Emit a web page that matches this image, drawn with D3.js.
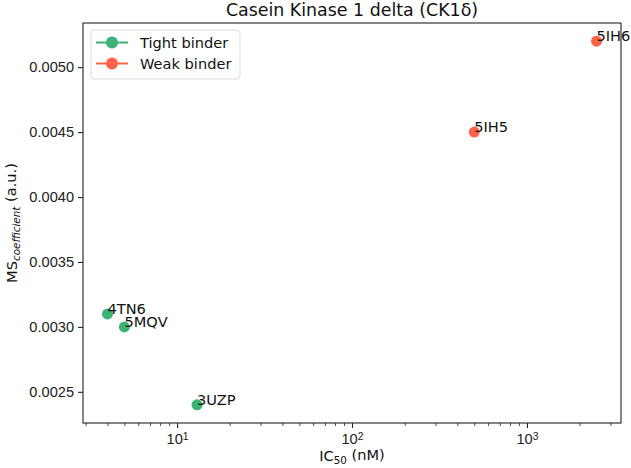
<!DOCTYPE html>
<html>
<head>
<meta charset="utf-8">
<script src="https://cdn.jsdelivr.net/npm/d3@7"></script>
<style>
  body { margin: 0; background: #fff; }
  svg { display: block; font-family: "DejaVu Sans", sans-serif; }
</style>
</head>
<body>
<div id="chart"></div>
<script>
var w = 631,
  h = 468;
var margin = {top: 23, right: 10, bottom: 45, left: 83};
var fs = 14.6;

// data
var names = ["4TN6", "5MQV", "3UZP", "5IH5", "5IH6"];
var ic50 = [4, 5, 13, 500, 2500];
var msCoef = [0.0031, 0.0030, 0.0024, 0.0045, 0.0052];
var groups = ["Tight binder", "Tight binder", "Tight binder", "Weak binder", "Weak binder"];
var legendNames = ["Tight binder", "Weak binder"];
var legendColors = ["#3cb371", "#ff6347"];
var yTicks = [0.0025, 0.0030, 0.0035, 0.0040, 0.0045, 0.0050];
var xTicks = [10, 100, 1000];

var color = d3.scaleOrdinal().domain(legendNames).range(legendColors);

var svg = d3.select("#chart").append("svg").attr("width", w).attr("height", h);
var iw = w - margin.left - margin.right,
  ih = h - margin.top - margin.bottom;

// matplotlib style 5% margins on log x
var lx0 = Math.log10(d3.min(ic50)), lx1 = Math.log10(d3.max(ic50));
var pad = (lx1 - lx0) * 0.05;
var x = d3.scaleLog().domain([Math.pow(10, lx0 - pad), Math.pow(10, lx1 + pad)]).range([0, iw]);
var ylo = d3.min(msCoef), yhi = d3.max(msCoef);
var ypad = (yhi - ylo) * 0.05;
var y = d3.scaleLinear().domain([ylo - ypad, yhi + ypad]).range([ih, 0]);

var g = svg.append("g").attr("transform", "translate(" + margin.left + "," + margin.top + ")");

// minor ticks
var minor = [];
[1, 10, 100, 1000].forEach(function (d) {
  for (var k = 2; k <= 9; k++) {
    var v = d * k;
    if (v >= x.domain()[0] && v <= x.domain()[1]) minor.push(v);
  }
});

var xAxis = g.append("g").attr("transform", "translate(0," + ih + ")")
  .call(d3.axisBottom(x).tickValues(xTicks).tickSize(5).tickPadding(4).tickFormat(function () { return ""; }));
xAxis.select(".domain").remove();
xAxis.selectAll(".tick").each(function (d) {
  var t = d3.select(this).select("text").attr("font-size", fs).attr("fill", "#222").attr("dy", "0.85em");
  t.append("tspan").text("10");
  t.append("tspan").attr("dy", "-0.45em").attr("font-size", 10.4).text(Math.round(Math.log10(d)));
});
xAxis.selectAll("line").attr("stroke", "#222").attr("stroke-width", 1.1);

var xMinor = g.append("g").attr("transform", "translate(0," + ih + ")")
  .call(d3.axisBottom(x).tickValues(minor).tickSize(3).tickFormat(""));
xMinor.select(".domain").remove();
xMinor.selectAll("line").attr("stroke", "#222").attr("stroke-width", 0.8);

var yAxis = g.append("g")
  .call(d3.axisLeft(y).tickValues(yTicks).tickSize(5).tickPadding(4).tickFormat(d3.format(".4f")));
yAxis.select(".domain").remove();
yAxis.selectAll("text").attr("font-size", fs).attr("fill", "#222");
yAxis.selectAll("line").attr("stroke", "#222").attr("stroke-width", 1.1);

// frame
g.append("rect").attr("width", iw).attr("height", ih)
  .attr("fill", "none").attr("stroke", "#222").attr("stroke-width", 1.1);

// points
var pts = names.map(function (n, i) { return {name: n, x: ic50[i], y: msCoef[i], group: groups[i]}; });
g.selectAll("circle.pt").data(pts).enter().append("circle").attr("class", "pt")
  .attr("cx", function (d) { return x(d.x); })
  .attr("cy", function (d) { return y(d.y); })
  .attr("r", 5.5)
  .attr("fill", function (d) { return color(d.group); });

g.selectAll("text.lbl").data(pts).enter().append("text").attr("class", "lbl")
  .attr("x", function (d) { return x(d.x); })
  .attr("y", function (d) { return y(d.y); })
  .attr("font-size", fs).attr("fill", "#111")
  .text(function (d) { return d.name; });

// title and axis labels
svg.append("text").attr("x", margin.left + iw / 2).attr("y", 16)
  .attr("text-anchor", "middle").attr("font-size", 17.4).attr("fill", "#111")
  .text("Casein Kinase 1 delta (CK1δ)");

var xl = svg.append("text").attr("x", margin.left + iw / 2).attr("y", 461)
  .attr("text-anchor", "middle").attr("font-size", fs).attr("fill", "#111");
xl.append("tspan").text("IC");
xl.append("tspan").attr("font-size", 10.4).attr("dy", "0.25em").text("50");
xl.append("tspan").attr("dy", "-0.25em").text(" (nM)");

var yl = svg.append("text").attr("transform", "translate(17," + (margin.top + ih / 2) + ") rotate(-90)")
  .attr("text-anchor", "middle").attr("font-size", fs).attr("fill", "#111");
yl.append("tspan").text("MS");
yl.append("tspan").attr("font-size", 10.4).attr("font-style", "italic").attr("dy", "0.25em").text("coefficient");
yl.append("tspan").attr("dy", "-0.25em").text(" (a.u.)");

// legend
var lg = svg.append("g").attr("transform", "translate(91,30)");
lg.append("rect").attr("width", 149).attr("height", 49).attr("rx", 3)
  .attr("fill", "#fff").attr("fill-opacity", 0.8).attr("stroke", "#ddd");
legendNames.forEach(function (n, i) {
  var yy = 12.5 + i * 21;
  lg.append("line").attr("x1", 5).attr("x2", 37).attr("y1", yy).attr("y2", yy)
    .attr("stroke", color(n)).attr("stroke-width", 2);
  lg.append("circle").attr("cx", 21).attr("cy", yy).attr("r", 6).attr("fill", color(n));
  lg.append("text").attr("x", 49).attr("y", yy).attr("dy", "0.35em")
    .attr("font-size", fs).attr("fill", "#111").text(n);
});
</script>
</body>
</html>
